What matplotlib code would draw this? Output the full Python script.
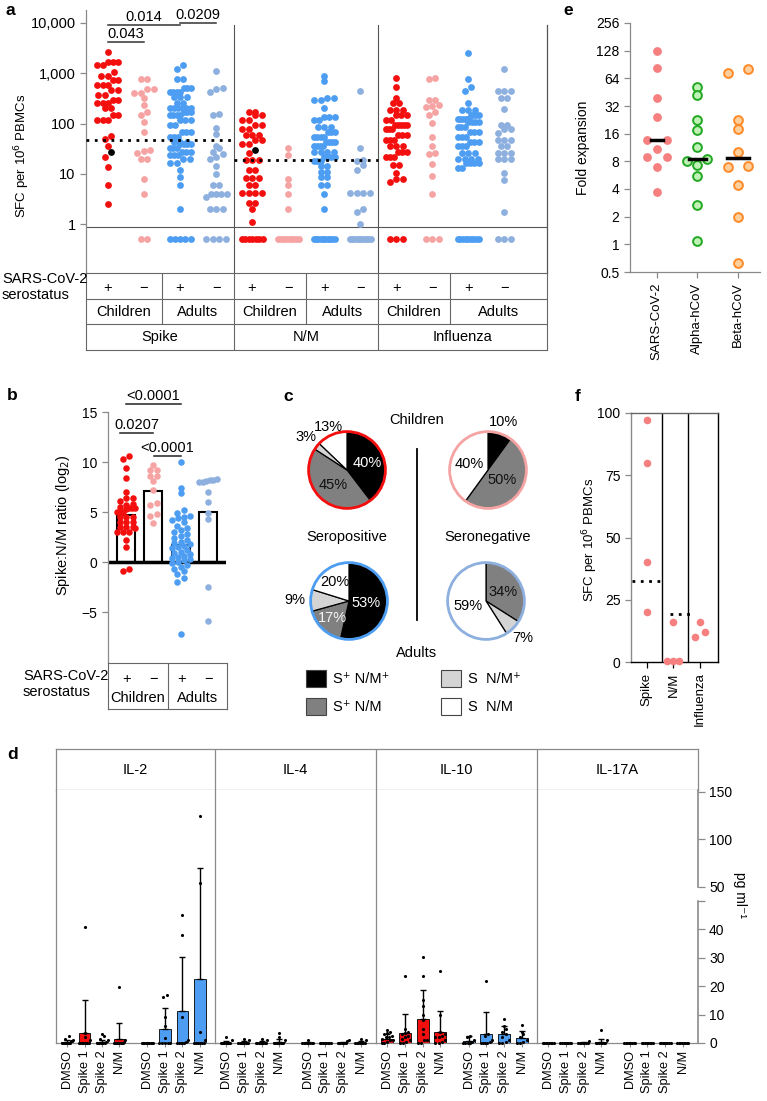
import numpy as np
import matplotlib
matplotlib.use("Agg")
import matplotlib.pyplot as plt
from matplotlib.patches import Circle, Rectangle
from matplotlib.transforms import blended_transform_factory as btf
from matplotlib.ticker import FixedLocator, NullLocator

# ======================= DATA =======================
# ---- panel a (SFC per 10^6 PBMCs; 0 = below detection) ----
a_groups = ["Spike", "N/M", "Influenza"]
a_cohorts = ["Children", "Adults"]
a_signs = ["+", "\u2212", "+", "\u2212"]
a_spike_cp = [2600, 1700, 1700, 1700, 1450, 1450, 1070, 880, 880, 740, 740, 590, 590, 590,
              465, 465, 370, 370, 293, 293, 252, 252, 252, 200, 200, 147, 147, 117, 117, 117,
              56, 50, 36, 22, 13.8, 6, 2.5]
a_spike_cn = [760, 760, 480, 480, 400, 400, 318, 234, 172, 150, 109, 69, 30, 28, 26, 20, 20,
              7.8, 4, 0, 0]
a_spike_ap = [1450, 1230, 760, 760, 500, 500, 500, 430, 430, 430, 430, 340, 340, 340, 252, 252,
              200, 200, 200, 200, 200, 200, 172, 172, 172, 147, 147, 147, 147, 117, 117, 117,
              94, 94, 69, 69, 69, 55, 55, 55, 43, 43, 43, 39, 39, 39, 39, 32, 32, 32, 27.5, 27.5,
              27.5, 23.6, 23.6, 23.6, 20, 20, 16, 16, 11.9, 8.7, 6, 2, 0, 0, 0, 0, 0]
a_spike_an = [1100, 520, 480, 420, 158, 147, 83, 62, 36, 32, 27, 25, 22, 20, 14, 9.8, 6, 6,
              4, 4, 4, 4, 3.5, 2, 2, 2, 0, 0, 0, 0]
a_nm_cp = [172, 172, 147, 147, 117, 117, 94, 94, 78, 78, 60, 60, 60, 48, 48, 39, 39, 26,
           19, 19, 19, 11.9, 11.9, 8.1, 8.1, 8.1, 6, 6, 4.1, 4.1, 4.1, 4.1, 2.6, 2.6, 2, 1.1,
           0, 0, 0, 0, 0, 0, 0]
a_nm_cn = [32, 24, 7.9, 6, 4, 2, 0, 0, 0, 0, 0, 0, 0, 0, 0]
a_nm_ap = [880, 690, 327, 327, 290, 290, 207, 137, 137, 137, 117, 117, 86, 86, 86, 69, 69, 69,
           55, 55, 55, 55, 43, 43, 43, 43, 35, 35, 35, 35, 27.5, 27.5, 27.5, 27.5, 22, 22, 22,
           22, 18, 18, 18, 14, 14, 11, 11, 8.7, 8.7, 6, 6, 4, 2,
           0, 0, 0, 0, 0, 0, 0, 0, 0, 0]
a_nm_an = [450, 32, 19, 18, 15, 12, 4.1, 4.1, 4.1, 4.1, 2, 1.7, 1.0,
           0, 0, 0, 0, 0, 0, 0, 0, 0, 0]
a_flu_cp = [790, 540, 318, 252, 252, 186, 186, 186, 147, 147, 147, 117, 117, 94, 94, 94, 94, 94,
            76, 76, 76, 59, 59, 59, 47, 47, 47, 35, 35, 35, 27.5, 27.5, 27.5, 22, 22, 22, 15, 15,
            10.2, 7.8, 7.8, 6.9, 0, 0, 0]
a_flu_cn = [800, 780, 300, 290, 230, 220, 215, 172, 147, 104, 53, 35, 26, 25, 15.6, 9, 4, 0, 0, 0]
a_flu_ap = [2500, 780, 525, 450, 252, 186, 186, 186, 147, 147, 147, 147, 125, 125, 125, 125, 125,
            107, 107, 107, 107, 86, 86, 86, 69, 69, 69, 55, 55, 55, 43, 43, 43, 35, 35, 35,
            26, 26, 26, 20, 20, 20, 20, 16, 16, 16, 16, 12.8, 12.8,
            0, 0, 0, 0, 0, 0, 0, 0, 0]
a_flu_an = [1210, 450, 450, 450, 318, 318, 192, 94, 94, 76, 76, 64, 48, 48, 48, 35, 35, 26, 26,
            26, 20, 20, 20, 10.2, 7.4, 1.7, 0, 0, 0]
a_highlight_group = [0, 4]
a_highlight_value = [27.5, 30]
a_thresholds = [48, 19]
a_yticks = [1, 10, 100, 1000, 10000]
a_yticklabels = ["1", "10", "100", "1,000", "10,000"]
a_pvalues = ["0.043", "0.014", "0.0209"]
a_pairs = [(0, 1), (0, 2), (2, 3)]

# ---- panel b (Spike:N/M ratio, log2) ----
b_cp = [10.6, 10.3, 9.4, 8.4, 7.0, 6.4, 6.4, 6.1, 5.8, 5.7, 5.5, 5.4, 5.4, 5.4, 5.3, 5.0, 5.0,
        5.0, 4.5, 4.5, 4.5, 4.0, 4.0, 4.0, 3.5, 3.5, 3.5, 3.4, 3.0, 3.0, 3.0, 2.2, 1.5, -0.7, -0.9]
b_cn = [9.7, 9.2, 9.2, 8.6, 8.6, 8.1, 7.2, 5.9, 5.7, 4.8, 4.6, 3.9]
b_ap = [10.0, 7.4, 6.9, 5.2, 4.9, 4.6, 4.5, 4.4, 4.2, 4.0, 3.6, 3.4, 3.2, 3.0, 2.8, 2.6, 2.4, 2.2,
        2.0, 1.9, 1.8, 1.6, 1.5, 1.4, 1.2, 1.0, 0.9, 0.8, 0.6, 0.5, 0.4, 0.3, 0.2, 0.0, -0.1,
        -0.3, -0.5, -0.7, -0.9, -1.2, -1.6, -2.0, -7.2]
b_an = [8.3, 8.2, 8.2, 8.1, 8.0, 8.0, 7.0, 6.0, 4.9, 4.3, -2.5, -5.9]
b_bar = [4.7, 7.1, 1.7, 5.0]
b_yticks = [-5, 0, 5, 10, 15]
b_pvalues = ["<0.0001", "0.0207", "<0.0001"]
b_pairs = [(0, 2), (-0.22, 1), (1.03, 2)]
b_plevels = [15.8, 12.9, 10.6]

# ---- panel c (pie fractions, %) order: S+N/M+, S+N/M-, S-N/M+, S-N/M- ----
c_child_pos = [40, 45, 3, 13]
c_child_neg = [10, 50, 0, 40]
c_adult_pos = [53, 17, 9, 20]
c_adult_neg = [0, 34, 7, 59]
c_legend = ["S\u207a N/M\u207a", "S\u207a N/M", "S  N/M\u207a", "S  N/M"]

# ---- panel d (pg/ml) ----
d_cytokines = ["IL-2", "IL-4", "IL-10", "IL-17A"]
d_conditions = ["DMSO", "Spike 1", "Spike 2", "N/M"]
d_il2_mean = [0.3, 3.5, 0.3, 1.4, 0.05, 4.9, 11.2, 22.5]
d_il2_top = [0.9, 15, 0.9, 7, 0.05, 12.3, 30.2, 69.5]
d_il2_pts = [[0] * 8 + [0.6, 1.0, 1.5, 2.5], [0] * 8 + [1, 2, 3.5, 40.7],
             [0] * 7 + [0.5, 1, 1.5, 2.5, 3], [0] * 9 + [0.3, 1, 19.7],
             [0] * 10, [0] * 5 + [1.8, 6, 9, 16.3, 17],
             [0] * 5 + [0.5, 1, 9.1, 38, 45], [0] * 6 + [1, 3.9, 54, 125]]
d_il4_mean = [0.1, 0.1, 0.1, 0.2, 0.05, 0.0, 0.05, 0.1]
d_il4_top = [0.8, 0.8, 0.8, 1.5, 0.5, 0.0, 0.5, 0.8]
d_il4_pts = [[0] * 9 + [1, 2], [0] * 9 + [1, 1.5], [0] * 9 + [1, 1.5], [0] * 8 + [1, 2, 3.5],
             [0] * 8 + [1.2], [0] * 8, [0] * 7 + [0.8, 1], [0] * 7 + [1, 1.5]]
d_il10_mean = [1.5, 3.6, 8.4, 4.0, 0.7, 3.3, 3.1, 1.8]
d_il10_top = [3.0, 10.2, 18.6, 11.2, 2.4, 10.9, 6.0, 4.1]
d_il10_pts = [[0, 0, 0.5, 1, 1, 1.5, 2, 2, 2.5, 3, 3.5, 4, 4.5],
              [0, 0, 0.5, 1, 1.5, 2, 2.5, 3, 3.5, 4, 5, 23.5],
              [0, 0, 1, 1, 3, 5, 8, 10, 13, 15, 23.5, 30.2],
              [0, 0, 0.5, 1, 2, 2, 2.5, 3, 4, 10, 25.3],
              [0, 0, 0, 0, 0.5, 1, 2, 2.4],
              [0, 0, 0, 0, 0.5, 1, 2.5, 3, 21.9],
              [0, 0, 0.5, 1, 2, 3, 4, 5, 6, 8.4],
              [0, 0, 0.5, 1, 2, 3, 4, 6.3]]
d_il17_mean = [0, 0, 0.05, 0.4, 0, 0, 0, 0]
d_il17_top = [0, 0, 0.3, 1.5, 0, 0, 0, 0]
d_il17_pts = [[0] * 8, [0] * 8, [0] * 7 + [0.8], [0] * 7 + [1, 4.5],
              [0] * 8, [0] * 8, [0] * 8, [0] * 8]
d_yticks = [0, 10, 20, 30, 40, 50, 50.001, 100, 150]
d_yticklabels = ["0", "10", "20", "30", "40", "", "50", "100", "150"]

# ---- panel e (fold expansion) ----
e_categories = ["SARS-CoV-2", "Alpha-hCoV", "Beta-hCoV"]
e_sars = [126, 82, 39, 24, 13.8, 13.8, 10.8, 9.0, 9.0, 7.0, 3.7]
e_alpha = [51, 42, 22.5, 17.5, 11.5, 8.5, 8.0, 7.3, 5.6, 2.7, 1.1]
e_beta = [80, 73.5, 22.5, 17.8, 10.1, 7.2, 6.9, 4.4, 2.0, 0.62]
e_median = [13.8, 8.5, 8.8]
e_yticks = [0.5, 1, 2, 4, 8, 16, 32, 64, 128, 256]

# ---- panel f ----
f_categories = ["Spike", "N/M", "Influenza"]
f_spike = [97, 80, 40, 20]
f_nm = [16, 0.5, 0.5, 0.5]
f_flu = [16, 12, 10]
f_thresholds = [32.5, 19.3]
f_yticks = [0, 25, 50, 75, 100]

# ======================= STYLE / LAYOUT =======================
W, H = 767, 1101
plt.rcParams["font.family"] = ["Liberation Sans", "DejaVu Sans"]
plt.rcParams["font.size"] = 10
plt.rcParams["axes.linewidth"] = 0.9
RED, PINK, BLUE, LBLUE, SALMON = "#f40f0f", "#f6a3a3", "#4d9ef2", "#8db0df", "#f67f7f"
GC = "#8a8a8a"
fig = plt.figure(figsize=(W / 100, H / 100), dpi=100)


def add_ax(x0, y0, x1, y1, **kw):
    return fig.add_axes([x0 / W, 1 - y1 / H, (x1 - x0) / W, (y1 - y0) / H], **kw)


def row_offsets(ypx, bin_px, spacing, max_half):
    ypx = np.asarray(ypx, float)
    order = np.argsort(ypx, kind="stable")
    offs = np.zeros(len(ypx))
    rows, cur = [], [order[0]]
    for i in order[1:]:
        if ypx[i] - ypx[cur[0]] < bin_px:
            cur.append(i)
        else:
            rows.append(cur)
            cur = [i]
    rows.append(cur)
    for r in rows:
        n = len(r)
        sp = spacing
        if n > 1 and (n - 1) * sp / 2 > max_half:
            sp = 2 * max_half / (n - 1)
        for k, i in enumerate(r):
            offs[i] = (k - (n - 1) / 2) * sp
    return offs


def place(ax, xc, vals, bin_px, sp_px, max_half):
    vals = np.asarray(vals, float)
    pts = ax.transData.transform(np.column_stack([np.full(len(vals), xc), vals]))
    offs = row_offsets(pts[:, 1], bin_px, sp_px, max_half)
    return ax.transData.inverted().transform(np.column_stack([pts[:, 0] + offs, pts[:, 1]]))[:, 0]


def gray_axis(ax, which=("left",)):
    for s in ax.spines:
        ax.spines[s].set_visible(s in which)
        ax.spines[s].set_color(GC)
    ax.tick_params(color=GC, length=4, width=0.9)


def letter(x, y, s):
    fig.text(x / W, 1 - y / H, s, fontsize=12.5, fontweight="bold", va="top", ha="left")


# ======================= PANEL a =======================
def ypx_a(py):
    return 10 ** ((224 - py) / 50.25)


axA = add_ax(86, 10, 547, 273)
axA.set_yscale("log")
axA.set_ylim(ypx_a(273), ypx_a(10))
axA.set_xlim(-0.61, 12.19)
gray_axis(axA, ("left", "right"))
axA.spines["right"].set_color("#555555")
axA.spines["right"].set_bounds(ypx_a(273), ypx_a(25))
axA.set_yticks(a_yticks)
axA.set_yticklabels(a_yticklabels, fontsize=10.5)
axA.yaxis.set_minor_locator(NullLocator())
axA.set_xticks([])
frac = (273 - 25) / (273 - 10)
for xb in [3.5, 7.5]:
    axA.axvline(xb, ymax=frac, color="#555555", lw=0.8)
axA.axhline(ypx_a(227), color="#555555", lw=0.8)

a_series = [a_spike_cp, a_spike_cn, a_spike_ap, a_spike_an,
            a_nm_cp, a_nm_cn, a_nm_ap, a_nm_an,
            a_flu_cp, a_flu_cn, a_flu_ap, a_flu_an]
a_colors = [RED, PINK, BLUE, LBLUE] * 3
for i, vals in enumerate(a_series):
    v = list(vals)
    hl = [a_highlight_value[k] for k, g in enumerate(a_highlight_group) if g == i]
    allv = np.array(v + hl, float)
    plot_v = np.where(allv <= 0, ypx_a(239), allv)
    xs = place(axA, i, plot_v, 5.0, 6.5, 10.5)
    n = len(v)
    axA.scatter(xs[:n], plot_v[:n], s=24, color=a_colors[i], lw=0, zorder=3, clip_on=False)
    if hl:
        axA.scatter(xs[n:], plot_v[n:], s=24, color="black", lw=0, zorder=4)

# threshold dotted lines
axA.plot([-0.61, 3.5], [a_thresholds[0]] * 2, color="black", lw=2, ls=(0, (1, 2)), zorder=5)
axA.plot([3.5, 7.5], [a_thresholds[1]] * 2, color="black", lw=2, ls=(0, (1, 2)), zorder=5)

# significance
for (i0, i1), p, lev in zip(a_pairs, a_pvalues, [ypx_a(42), ypx_a(25), ypx_a(23)]):
    axA.plot([i0, i1], [lev, lev], color="#333333", lw=1.1, clip_on=False)
    axA.annotate(p, ((i0 + i1) / 2, lev), xytext=(0, 1), textcoords="offset points",
                 ha="center", va="bottom", fontsize=10.5, annotation_clip=False)

fig.text(22 / W, 1 - 156 / H, "SFC per 10$^{6}$ PBMCs", rotation=90, ha="center", va="center",
         fontsize=9.5)

# table under a
axAt = add_ax(86, 273, 547, 350)
axAt.set_xlim(-0.61, 12.19)
axAt.set_ylim(350, 273)
axAt.set_xticks([])
axAt.set_yticks([])
for s in axAt.spines.values():
    s.set_color("#666666")
    s.set_linewidth(0.8)
for yl in [299, 324]:
    axAt.axhline(yl, color="#666666", lw=0.8)
for xb in [1.5, 5.5, 9.5]:
    axAt.plot([xb, xb], [273, 324], color="#666666", lw=0.8)
for xb in [3.5, 7.5]:
    axAt.axvline(xb, color="#666666", lw=0.8)
for i in range(12):
    axAt.text(i, 288, a_signs[i % 4], ha="center", va="center", fontsize=10.5)
edges = [-0.61, 1.5, 3.5, 5.5, 7.5, 9.5, 12.19]
for k in range(6):
    axAt.text((edges[k] + edges[k + 1]) / 2, 312, a_cohorts[k % 2], ha="center", va="center",
              fontsize=10.5)
gedges = [-0.61, 3.5, 7.5, 12.19]
for k in range(3):
    axAt.text((gedges[k] + gedges[k + 1]) / 2, 337, a_groups[k], ha="center", va="center",
              fontsize=10.5)
fig.text(2 / W, 1 - 287 / H, "SARS-CoV-2\nserostatus", ha="left", va="center", fontsize=10.5,
         linespacing=1.25)
letter(5, 3, "a")

# ======================= PANEL b =======================
axB = add_ax(108, 412, 226, 663)
axB.set_ylim(-10.1, 15)
axB.set_xlim(-0.66, 3.66)
gray_axis(axB, ("left",))
axB.spines["left"].set_bounds(-10.1, 15)
axB.set_yticks(b_yticks)
axB.set_yticklabels([f"{t:g}".replace("-", "\u2212") for t in b_yticks], fontsize=10)
axB.set_xticks([])
axB.bar(range(4), b_bar, width=0.66, facecolor="white", edgecolor="black", lw=1.5, zorder=1)
axB.axhline(0, color="black", lw=2.5, zorder=2)
for i, (vals, col) in enumerate(zip([b_cp, b_cn, b_ap, b_an], [RED, PINK, BLUE, LBLUE])):
    xs = place(axB, i, vals, 5.0, 6.5, 9)
    axB.scatter(xs, vals, s=22, color=col, lw=0, zorder=3)
for (x0, x1), p, lev in zip(b_pairs, b_pvalues, b_plevels):
    axB.plot([x0, x1], [lev, lev], color="#222222", lw=1.1, clip_on=False)
    axB.annotate(p, ((x0 + x1) / 2, lev), xytext=(0, 0.5), textcoords="offset points",
                 ha="center", va="bottom", fontsize=10.5, annotation_clip=False)
fig.text(63 / W, 1 - 525 / H, "Spike:N/M ratio (log$_2$)", rotation=90, ha="center",
         va="center", fontsize=10.5)
axBt = add_ax(108, 663, 227, 709)
axBt.set_xlim(-0.66, 3.66)
axBt.set_ylim(709, 663)
axBt.set_xticks([])
axBt.set_yticks([])
for s in axBt.spines.values():
    s.set_color("#666666")
    s.set_linewidth(0.8)
axBt.axvline(1.5, color="#666666", lw=0.8)
for i in range(4):
    axBt.text(i, 679, a_signs[i], ha="center", va="center", fontsize=10.5)
axBt.text(0.42, 698, a_cohorts[0], ha="center", va="center", fontsize=10.5)
axBt.text(2.58, 698, a_cohorts[1], ha="center", va="center", fontsize=10.5)
fig.text(23 / W, 1 - 684 / H, "SARS-CoV-2\nserostatus", ha="left", va="center", fontsize=10.5,
         linespacing=1.25)
letter(7, 388, "b")

# ======================= PANEL c =======================
axC = add_ax(283, 395, 560, 725)
axC.set_xlim(283, 560)
axC.set_ylim(725, 395)
axC.axis("off")
axC.text(417, 420, "Children", ha="center", va="center", fontsize=10.5)
axC.text(347, 537, "Seropositive", ha="center", va="center", fontsize=10.5)
axC.text(488, 537, "Seronegative", ha="center", va="center", fontsize=10.5)
axC.text(417, 653, "Adults", ha="center", va="center", fontsize=10.5)
axC.plot([417, 417], [449, 620], color="black", lw=1.3)
wedge_cols = ["#000000", "#808080", "#d4d4d4", "#ffffff"]
for k, (lx, ly) in enumerate([(306, 670), (306, 698), (441, 670), (441, 698)]):
    axC.add_patch(Rectangle((lx, ly), 20, 17, facecolor=wedge_cols[k], edgecolor="#444444",
                            lw=0.8))
    axC.text(lx + 27, ly + 8.5, c_legend[k], ha="left", va="center", fontsize=10.5)
letter(283, 389, "c")

pie_specs = [
    (c_child_pos, (347, 470), RED, [0.55, 0.53, 1.37, 1.22], ["white", "#111111", "black", "black"]),
    (c_child_neg, (488, 470), PINK, [1.31, 0.45, 1.3, 0.52], ["black", "#111111", "black", "black"]),
    (c_adult_pos, (349, 601), BLUE, [0.44, 0.61, 1.4, 0.62], ["white", "#f4f4f4", "black", "black"]),
    (c_adult_neg, (486, 601), LBLUE, [1.3, 0.51, 1.35, 0.5], ["black", "#111111", "black", "black"]),
]
R = 43
for vals, (cx, cy), ring, rads, tcols in pie_specs:
    axp = add_ax(cx - 48, cy - 48, cx + 48, cy + 48)
    axp.set_xlim(-48 / R, 48 / R)
    axp.set_ylim(-48 / R, 48 / R)
    axp.set_aspect("equal")
    axp.axis("off")
    idx = [k for k, v in enumerate(vals) if v > 0]
    axp.pie([vals[k] for k in idx], colors=[wedge_cols[k] for k in idx], startangle=90,
            counterclock=False, radius=1,
            wedgeprops=dict(edgecolor="black", linewidth=0.9))
    axp.add_patch(Circle((0, 0), 1, fill=False, edgecolor=ring, lw=2.0, zorder=5))
    total = float(sum(vals))
    cum = 0.0
    for k, v in enumerate(vals):
        if v > 0:
            ang = np.deg2rad((cum + v / 2) / total * 360)
            axp.text(rads[k] * np.sin(ang), rads[k] * np.cos(ang), f"{v}%", ha="center",
                     va="center", fontsize=10.5, color=tcols[k], clip_on=False)
        cum += v

# ======================= PANEL d =======================
def fwd(v):
    v = np.asarray(v, float)
    return np.where(v <= 50, v * 2.85, 156.5 + (v - 50) * 0.95)


def inv(p):
    p = np.asarray(p, float)
    return np.where(p <= 142.5, p / 2.85, np.where(p < 156.5, 50.0, 50 + (p - 156.5) / 0.95))


d_means = [d_il2_mean, d_il4_mean, d_il10_mean, d_il17_mean]
d_tops = [d_il2_top, d_il4_top, d_il10_top, d_il17_top]
d_pts = [d_il2_pts, d_il4_pts, d_il10_pts, d_il17_pts]
d_pos = [0, 1, 2, 3, 4.6, 5.6, 6.6, 7.6]
d_cols = [RED] * 4 + [BLUE] * 4
fx = [56, 215, 376, 537, 698]
axH = add_ax(56, 749, 698, 790)
axH.set_xlim(56, 698)
axH.set_ylim(0, 1)
axH.set_xticks([])
axH.set_yticks([])
for s in axH.spines.values():
    s.set_color(GC)
    s.set_linewidth(0.9)
for k in range(4):
    if k > 0:
        axH.axvline(fx[k], color=GC, lw=0.9)
    axH.text((fx[k] + fx[k + 1]) / 2, 0.5, d_cytokines[k], ha="center", va="center", fontsize=10.5)

for k in range(4):
    ax = add_ax(fx[k], 790, fx[k + 1], 1043)
    ax.set_yscale("function", functions=(fwd, inv))
    ax.set_ylim(0, 152)
    ax.set_xlim(-0.63, 8.46)
    for s in ax.spines:
        ax.spines[s].set_color(GC)
        ax.spines[s].set_linewidth(0.9)
    ax.spines["top"].set_visible(False)
    ax.spines["right"].set_visible(False)
    ax.bar(d_pos, d_means[k], width=0.68, color=d_cols, edgecolor="black", lw=0.6, zorder=2)
    m = np.array(d_means[k])
    t = np.array(d_tops[k])
    ax.errorbar(d_pos, m, yerr=[np.zeros_like(m), t - m], fmt="none", ecolor="black",
                elinewidth=1.0, capsize=2.5, capthick=1.0, zorder=3)
    for j, vals in enumerate(d_pts[k]):
        xs = place(ax, d_pos[j], vals, 3.0, 3.2, 5.5)
        ax.scatter(xs, vals, s=5, color="black", lw=0, zorder=4, clip_on=False)
    ax.set_xticks(d_pos)
    ax.set_xticklabels(d_conditions * 2, rotation=90, fontsize=9.2)
    ax.tick_params(axis="x", length=3, color=GC, width=0.8, pad=2)
    ax.yaxis.set_minor_locator(NullLocator())
    if k < 3:
        ax.yaxis.set_major_locator(FixedLocator([]))
        ax.tick_params(axis="y", left=False, labelleft=False)
    else:
        ax.yaxis.tick_right()
        ax.set_yticks(d_yticks)
        ax.set_yticklabels(d_yticklabels, fontsize=10)
        ax.tick_params(axis="y", length=5, color=GC, width=0.9, pad=3)
        tr = btf(ax.transAxes, ax.transData)
        ax.plot([1, 1], [0, 50], transform=tr, color=GC, lw=1.2, clip_on=False)
        ax.plot([1, 1], [50.001, 152], transform=tr, color=GC, lw=1.2, clip_on=False)
fig.text(740 / W, 1 - 895 / H, "pg ml\u207b\u00b9", rotation=270, ha="center", va="center",
         fontsize=10)
letter(7, 747, "d")

# ======================= PANEL e =======================
axE = add_ax(630, 23, 760, 272)
axE.set_yscale("log", base=2)
axE.set_ylim(0.5, 256)
axE.set_xlim(-0.66, 2.54)
gray_axis(axE, ("left", "bottom"))
axE.set_yticks(e_yticks)
axE.set_yticklabels([f"{t:g}" for t in e_yticks], fontsize=10)
axE.yaxis.set_minor_locator(NullLocator())
axE.set_xticks(range(3))
axE.set_xticklabels(e_categories, rotation=90, fontsize=9.5)
e_styles = [dict(color=SALMON, lw=0), dict(facecolor="#bff2b5", edgecolor="#22a822", lw=1.4),
            dict(facecolor="#ffcf9c", edgecolor="#ff8a2a", lw=1.4)]
for i, vals in enumerate([e_sars, e_alpha, e_beta]):
    xs = place(axE, i, vals, 3.5, 20, 12)
    axE.scatter(xs, vals, s=40, zorder=3, clip_on=False, **e_styles[i])
for i, (med, hw) in enumerate(zip(e_median, [0.15, 0.22, 0.28])):
    axE.plot([i - hw, i + hw], [med, med], color="black", lw=2.5, zorder=4)
fig.text(583 / W, 1 - 148 / H, "Fold expansion", rotation=90, ha="center", va="center",
         fontsize=10)
letter(563, 3, "e")

# ======================= PANEL f =======================
axF = add_ax(631, 413, 718, 662)
axF.set_ylim(0, 100)
axF.set_xlim(-0.6, 2.68)
for s in axF.spines:
    axF.spines[s].set_linewidth(1.0)
axF.spines["left"].set_color(GC)
axF.spines["top"].set_color("#666666")
axF.spines["right"].set_color("black")
axF.spines["bottom"].set_color("black")
axF.tick_params(color=GC, length=4, width=0.9)
axF.set_yticks(f_yticks)
axF.set_yticklabels([str(t) for t in f_yticks], fontsize=10)
axF.set_xticks(range(3))
axF.set_xticklabels(f_categories, rotation=90, fontsize=9.5)
axF.tick_params(axis="x", color="black")
for xb in [0.57, 1.55]:
    axF.axvline(xb, color="black", lw=1.0)
for i, vals in enumerate([f_spike, f_nm, f_flu]):
    xs = place(axF, i, vals, 6, 10.5, 6)
    axF.scatter(xs, vals, s=30, color=SALMON, lw=0, zorder=3, clip_on=False)
axF.plot([-0.58, 0.55], [f_thresholds[0]] * 2, color="black", lw=2, ls=(0, (1, 2)), zorder=4)
axF.plot([0.87, 1.65], [f_thresholds[1]] * 2, color="black", lw=2, ls=(0, (1, 2)), zorder=4)
fig.text(590 / W, 1 - 540 / H, "SFC per 10$^{6}$ PBMCs", rotation=90, ha="center", va="center",
         fontsize=9.5)
letter(575, 389, "f")

fig.savefig("out.png", dpi=100)
